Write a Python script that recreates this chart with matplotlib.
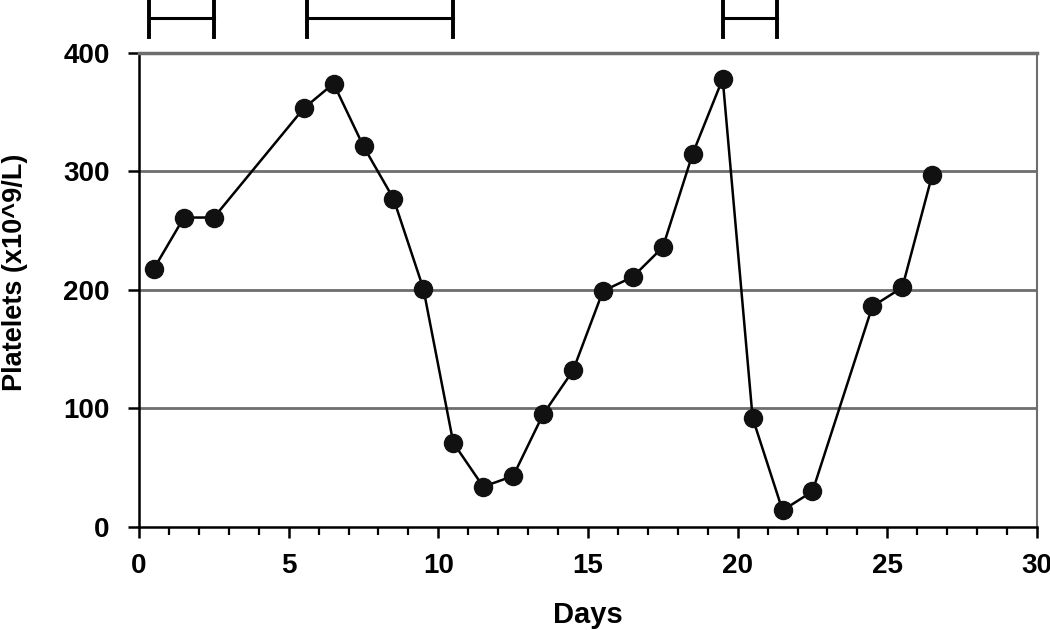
#!/usr/bin/env python3

import matplotlib
matplotlib.use("Agg")
from matplotlib import pyplot as plt
from matplotlib.ticker import MultipleLocator

plt.rcParams["font.family"] = ["Liberation Sans", "DejaVu Sans"]
plt.rcParams["font.weight"] = "bold"

days = [0.5, 1.5, 2.5, 5.5, 6.5, 7.5, 8.5, 9.5, 10.5, 11.5, 12.5, 13.5,
        14.5, 15.5, 16.5, 17.5, 18.5, 19.5, 20.5, 21.5, 22.5, 24.5, 25.5, 26.5]
platelets = [218, 261, 261, 353, 374, 321, 277, 201, 71, 34, 43, 95,
             132, 199, 211, 236, 315, 378, 92, 14, 30, 186, 202, 297]

# treatment periods shown as brackets above the plot
periods = [(0.35, 2.5), (5.6, 10.5), (19.5, 21.3)]
bracket_y = 429
bracket_lo, bracket_hi = 413, 446


def main():
    fig = plt.figure(figsize=(10.5, 6.3), dpi=100)
    ax = fig.add_axes([0.1324, 0.1635, 0.8552, 0.7528])

    for y in (100, 200, 300):
        ax.axhline(y, color="#6e6e6e", linewidth=2, zorder=1)

    ax.plot(days, platelets, color="black", linewidth=1.8, marker="o",
            markersize=13, markerfacecolor="#111111",
            markeredgecolor="#111111", zorder=3)

    for start, end in periods:
        ax.plot([start, end], [bracket_y, bracket_y], color="black",
                linewidth=2.2, clip_on=False)
        for x in (start, end):
            ax.plot([x, x], [bracket_lo, bracket_hi], color="black",
                    linewidth=2.8, clip_on=False)

    ax.set_xlim(0, 30)
    ax.set_ylim(0, 400)
    ax.xaxis.set_major_locator(MultipleLocator(5))
    ax.xaxis.set_minor_locator(MultipleLocator(1))
    ax.yaxis.set_major_locator(MultipleLocator(100))

    ax.spines["top"].set_color("#6e6e6e")
    ax.spines["right"].set_color("#6e6e6e")
    ax.spines["top"].set_linewidth(2.5)
    ax.spines["right"].set_linewidth(1.5)
    ax.spines["left"].set_linewidth(1.8)
    ax.spines["bottom"].set_linewidth(1.8)

    ax.tick_params(axis="both", which="major", direction="out", length=8,
                   width=1.8, labelsize=20)
    ax.tick_params(axis="x", which="major", pad=11)
    ax.tick_params(axis="y", which="major", pad=13)
    ax.tick_params(axis="x", which="minor", direction="out", length=6,
                   width=1.6)

    ax.set_xlabel("Days", fontsize=21, fontweight="bold")
    ax.xaxis.set_label_coords(0.5, -0.157)
    ax.xaxis.label.set_verticalalignment("top")
    ax.set_ylabel("Platelets (x10^9/L)", fontsize=19.5, fontweight="bold")
    ax.yaxis.set_label_coords(-0.124, 0.538)

    fig.savefig("out.png", dpi=100)
    plt.close()


if __name__ == "__main__":
    main()
